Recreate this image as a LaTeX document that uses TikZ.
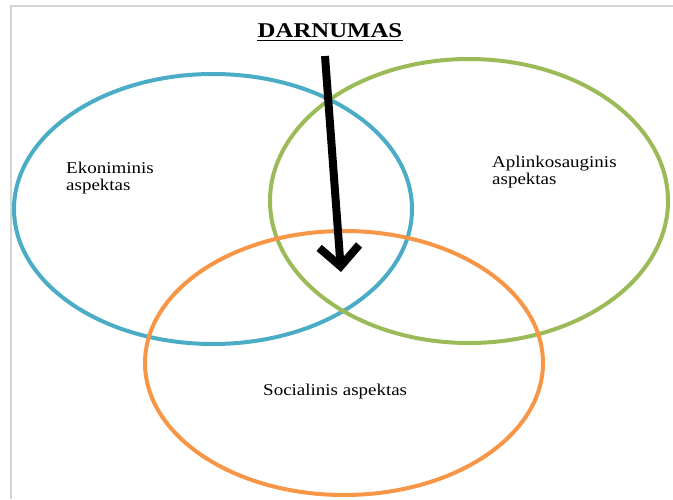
\documentclass[tikz,border=0pt]{standalone}
\usepackage{fontspec}
\setmainfont{Liberation Serif}
\usetikzlibrary{arrows.meta,shapes.geometric}
\definecolor{ecoblue}{HTML}{4BACC6}
\definecolor{envgreen}{HTML}{9BBB59}
\definecolor{socorange}{HTML}{F79646}
\definecolor{framegrey}{HTML}{D4D4D4}
\tikzset{
  circle3/.style={ellipse, draw, line width=4pt, inner sep=0pt},
  aspect/.style={font=\fontsize{16.5}{17}\selectfont, align=left, inner sep=0pt, xscale=1.15, anchor=base west},
  bigarrow/.style={line width=8pt, -{Straight Barb[length=20pt, width=40pt]}},
}
\begin{document}
\begin{tikzpicture}[x=1pt, y=-1pt]
  \useasboundingbox (0,0) rectangle (673,499);
  % page frame
  \draw[framegrey, line width=2pt] (10.5,499) -- (10.5,5.5) -- (673,5.5);
  % the three aspect circles
  \node[circle3, ecoblue, minimum width=398pt, minimum height=270pt] (eko) at (213,209) {};
  \node[circle3, envgreen, minimum width=398pt, minimum height=284pt] (apl) at (469,201) {};
  \node[circle3, socorange, minimum width=398pt, minimum height=264pt] (soc) at (344,363) {};
  % labels (base anchor sits on the last line)
  \node[aspect] (ekolbl) at (66,190) {Ekoniminis\\aspektas};
  \node[aspect] (apllbl) at (492,184) {Aplinkosauginis\\aspektas};
  \node[aspect] (soclbl) at (263,395) {Socialinis aspektas};
  % title and arrow into the common area
  \node[font=\fontsize{21}{24}\bfseries\selectfont, inner sep=0pt, xscale=1.18, anchor=base] (title) at (330,37) {DARNUMAS};
  \draw[line width=1.6pt] ([yshift=-3.5pt]title.base west) -- ([yshift=-3.5pt]title.base east);
  \coordinate (from) at (325,56);
  \coordinate (core) at (341,272);
  \draw[bigarrow] (from) -- (core);
\end{tikzpicture}
\end{document}
